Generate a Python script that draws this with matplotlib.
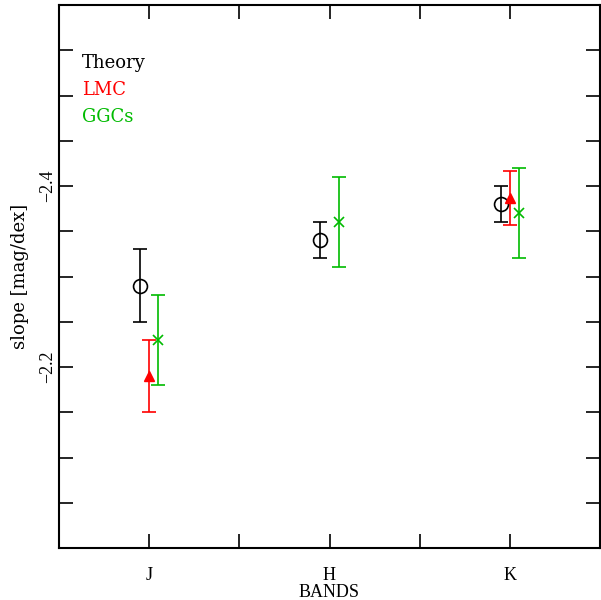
import numpy as np
import matplotlib.pyplot as plt

plt.rcParams['font.family'] = ['DejaVu Serif']

bands = ['J', 'H', 'K']
xpos = np.array([1, 2, 3])

# theory
th_x = np.array([1, 2, 3])
th_y = np.array([-2.29, -2.34, -2.38])
th_e = np.array([0.04, 0.02, 0.02])
# LMC (no H)
lmc_x = np.array([1, 3])
lmc_y = np.array([-2.19, -2.387])
lmc_e = np.array([0.04, 0.03])
# GGCs
ggc_x = np.array([1, 2, 3])
ggc_y = np.array([-2.23, -2.36, -2.37])
ggc_e = np.array([0.05, 0.05, 0.05])

off = 0.05
green = '#00bb00'
tickfont = ['Liberation Serif', 'DejaVu Serif']

fig = plt.figure(figsize=(6.01, 6), dpi=100)
ax = fig.add_axes([59/601, 52/600, 541/601, 543/600])

ax.errorbar(th_x - off, th_y, yerr=th_e, fmt='o', mfc='none', mec='black',
            ecolor='black', ms=10, mew=1.2, capsize=5, elinewidth=1.2, capthick=1.2)
ax.errorbar(lmc_x, lmc_y, yerr=lmc_e, fmt='^', color='red', ms=7,
            capsize=5, elinewidth=1.2, capthick=1.2)
ax.errorbar(ggc_x + off, ggc_y, yerr=ggc_e, fmt='x', color=green, ms=7, mew=1.2,
            capsize=5, elinewidth=1.2, capthick=1.2)

ax.set_xlim(0.5, 3.5)
ax.set_ylim(-2.0, -2.6)
ax.set_xticks(xpos)
ax.set_xticklabels(bands, family=tickfont, fontsize=13)
ax.set_xticks([1.5, 2.5], minor=True)
ax.set_yticks([-2.4, -2.2])
ax.set_yticklabels(['\u22122.4', '\u22122.2'], rotation=90, va='center',
                   family=tickfont, fontsize=13)
ax.set_yticks([-2.55, -2.5, -2.45, -2.35, -2.3, -2.25, -2.15, -2.1, -2.05], minor=True)
ax.tick_params(which='both', direction='in', top=True, right=True, length=10,
               width=1.2)
ax.tick_params(axis='x', pad=14)
ax.tick_params(axis='y', pad=2)
for s in ax.spines.values():
    s.set_linewidth(1.5)

ax.set_xlabel('BANDS', fontsize=13, family=tickfont, labelpad=0)
ax.set_ylabel('slope [mag/dex]', fontsize=13, labelpad=7)

ax.text(0.0425, 0.893, 'Theory', transform=ax.transAxes, fontsize=13, color='black', va='center')
ax.text(0.0425, 0.843, 'LMC', transform=ax.transAxes, fontsize=13, color='red', va='center')
ax.text(0.0425, 0.794, 'GGCs', transform=ax.transAxes, fontsize=13, color=green, va='center')

fig.savefig('out.png', dpi=100)
